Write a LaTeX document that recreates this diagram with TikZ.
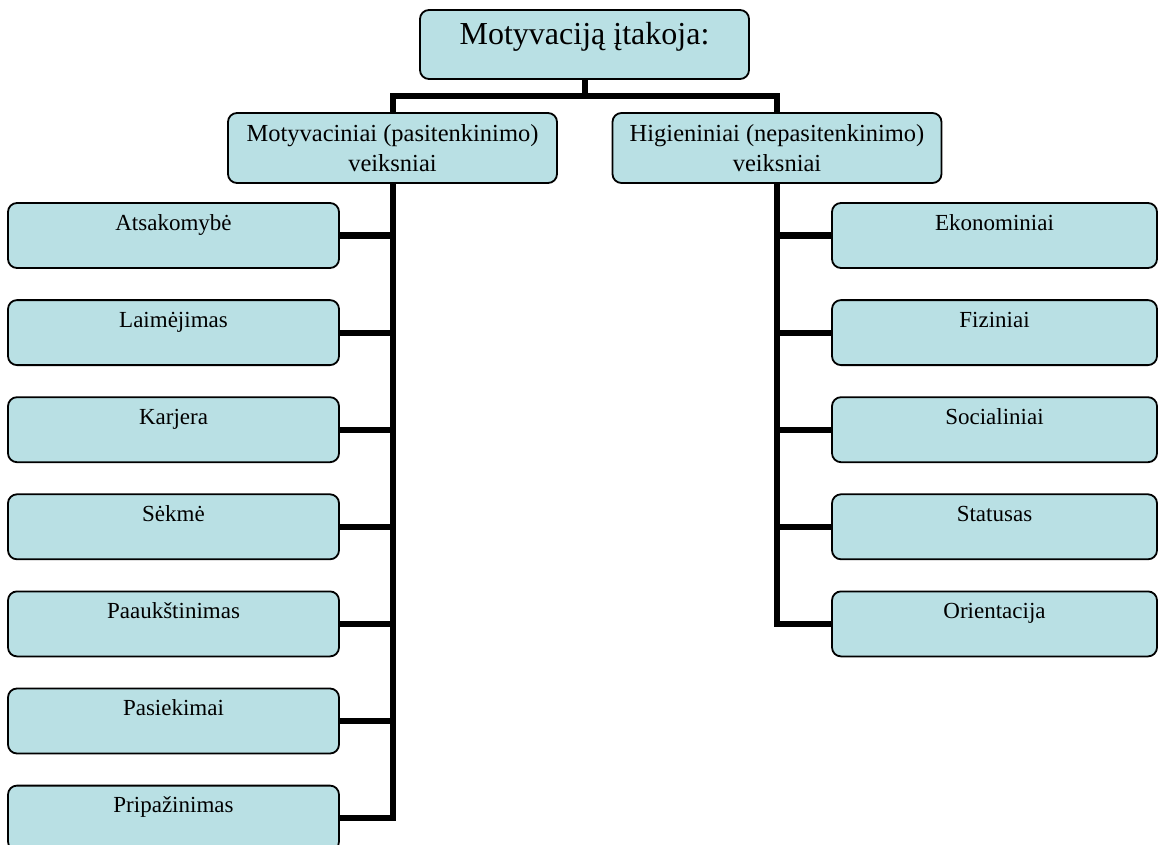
\documentclass[tikz,border=0pt]{standalone}
\usepackage{fontspec}
\setmainfont{Liberation Serif}
\usetikzlibrary{backgrounds,calc}
\definecolor{boxfill}{RGB}{185,224,228}
\begin{document}
\begin{tikzpicture}[x=1pt,y=-1pt,
  box/.style={draw=black, line width=1.8pt, fill=boxfill, rounded corners=9pt,
    inner sep=0pt, text=black},
  leaf/.style={box, minimum height=65pt, text height=27pt, text depth=38pt,
    font=\fontsize{23}{27}\selectfont},
  leftleaf/.style={leaf, minimum width=331pt},
  rightleaf/.style={leaf, minimum width=325pt},
  group/.style={box, minimum width=329pt, minimum height=70pt, align=center,
    font=\fontsize{24.5}{30}\selectfont},
  rootbox/.style={box, minimum width=329pt, minimum height=69pt,
    text height=35pt, text depth=34pt, font=\fontsize{32}{36}\selectfont},
  conn/.style={draw=black, line width=6pt, line join=miter}
]
\useasboundingbox (0,0) rectangle (1159,845);

% root and the two factor groups
\node[rootbox] (root) at (584.5,44.5) {Motyvaciją įtakoja:};
\node[group] (mot) at (392.5,148) {Motyvaciniai (pasitenkinimo)\\veiksniai};
\node[group] (hig) at (777,148) {Higieniniai (nepasitenkinimo)\\veiksniai};

% motivating factors
\node[leftleaf] (l1) at (173.5,235.5) {Atsakomybė};
\node[leftleaf] (l2) at (173.5,332.6) {Laimėjimas};
\node[leftleaf] (l3) at (173.5,429.7) {Karjera};
\node[leftleaf] (l4) at (173.5,526.8) {Sėkmė};
\node[leftleaf] (l5) at (173.5,623.9) {Paaukštinimas};
\node[leftleaf] (l6) at (173.5,721.0) {Pasiekimai};
\node[leftleaf] (l7) at (173.5,818.1) {Pripažinimas};

% hygiene factors
\node[rightleaf] (r1) at (994.5,235.5) {Ekonominiai};
\node[rightleaf] (r2) at (994.5,332.6) {Fiziniai};
\node[rightleaf] (r3) at (994.5,429.7) {Socialiniai};
\node[rightleaf] (r4) at (994.5,526.8) {Statusas};
\node[rightleaf] (r5) at (994.5,623.9) {Orientacija};

\begin{scope}[on background layer]
  \coordinate (bar) at ($(root.south)+(0,16)$);
  \coordinate (jl) at (mot.north |- bar);
  \coordinate (jr) at (hig.north |- bar);
  \draw[conn] (root.south) -- (bar);
  \draw[conn] (l7.east) -| (jl) -- (jr) |- (r5.west);
  \foreach \n in {l1,l2,l3,l4,l5,l6}
    \draw[conn] (\n.east) -- (\n.east -| jl);
  \foreach \n in {r1,r2,r3,r4}
    \draw[conn] (\n.west) -- (\n.west -| jr);
\end{scope}
\end{tikzpicture}
\end{document}
